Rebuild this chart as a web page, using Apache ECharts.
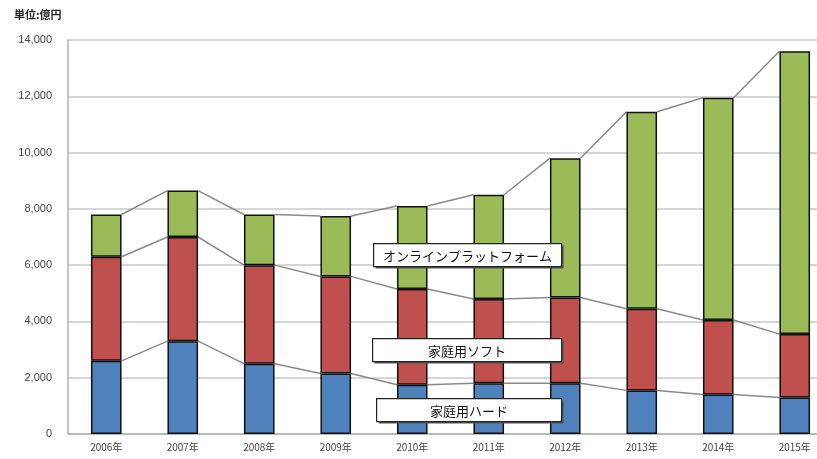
<!DOCTYPE html>
<html>
<head>
<meta charset="utf-8">
<script src="https://cdn.jsdelivr.net/npm/echarts@6/dist/echarts.min.js"></script>
<style>
  html, body { margin: 0; padding: 0; background: #fff; }
  #chart { width: 817px; height: 459px; }
</style>
</head>
<body>
<div id="chart"></div>
<script>
const years = ["2006年", "2007年", "2008年", "2009年", "2010年", "2011年", "2012年", "2013年", "2014年", "2015年"];
const hard = [2600, 3300, 2500, 2150, 1750, 1800, 1800, 1550, 1400, 1300];
const soft = [3700, 3700, 3500, 3450, 3400, 3000, 3050, 2900, 2650, 2250];
const online = [1500, 1650, 1800, 2150, 2950, 3700, 4950, 7000, 7900, 10050];
const yTicks = [0, 2000, 4000, 6000, 8000, 10000, 12000, 14000];

const colors = ["#4F81BD", "#C0504D", "#9BBB59"];
const fontJP = '"Noto Sans CJK JP", sans-serif';

// tops of each stack level, used for the connecting lines
const level1 = hard;
const level2 = hard.map((v, i) => v + soft[i]);
const level3 = level2.map((v, i) => v + online[i]);
const levels = [level1, level2, level3];

const chart = echarts.init(document.getElementById("chart"));

function barSeries(name, data, color) {
  return {
    name: name,
    type: "bar",
    stack: "total",
    barWidth: "40%",
    data: data,
    z: 3,
    itemStyle: { color: color, borderColor: "#111", borderWidth: 1.5 }
  };
}

function labelBox(text, x, y, w) {
  return {
    type: "group",
    left: x,
    top: y,
    z: 100,
    zlevel: 1,
    children: [
      { type: "rect", z: 100, zlevel: 1, shape: { x: 2, y: 2, width: w, height: 23 }, style: { fill: "#555" } },
      { type: "rect", z: 101, zlevel: 1, shape: { x: 0, y: 0, width: w, height: 23 }, style: { fill: "#fff", stroke: "#222", lineWidth: 1.2 } },
      { type: "text", z: 102, zlevel: 1, x: w / 2, y: 12, style: { text: text, fill: "#111", font: "13px " + fontJP, align: "center", verticalAlign: "middle" } }
    ]
  };
}

chart.setOption({
  animation: false,
  grid: { left: 68, top: 40, width: 765, height: 394, outerBoundsMode: "none", containLabel: false },
  xAxis: {
    type: "category",
    data: years,
    axisLine: { lineStyle: { color: "#b0b0b0", width: 1.5 } },
    axisTick: { inside: true, length: 3, lineStyle: { color: "#999" } },
    axisLabel: { color: "#444", fontSize: 10, fontFamily: fontJP, margin: 8 }
  },
  yAxis: {
    type: "value",
    min: 0,
    max: 14000,
    interval: 2000,
    axisLine: { show: true, lineStyle: { color: "#b0b0b0", width: 1.5 } },
    axisTick: { show: false },
    splitLine: { lineStyle: { color: "#c8c8c8", width: 1.5 } },
    axisLabel: {
      color: "#444",
      fontSize: 11,
      fontFamily: "Liberation Sans, Arial, sans-serif",
      margin: 16,
      formatter: v => yTicks.includes(v) ? v.toLocaleString("en-US") : ""
    }
  },
  series: [
    barSeries("家庭用ハード", hard, colors[0]),
    barSeries("家庭用ソフト", soft, colors[1]),
    barSeries("オンラインプラットフォーム", online, colors[2]),
    {
      type: "custom",
      z: 2,
      data: years.slice(0, -1).map((y, i) => [i]),
      encode: { x: 0 },
      renderItem: function (params, api) {
        const i = api.value(0);
        const half = api.size([1, 0])[0] * 0.2;
        const children = levels.map(lv => {
          const a = api.coord([i, lv[i]]);
          const b = api.coord([i + 1, lv[i + 1]]);
          return {
            type: "line",
            shape: { x1: a[0] + half, y1: a[1], x2: b[0] - half, y2: b[1] },
            style: { stroke: "#8a8a8a", lineWidth: 1.5 }
          };
        });
        return { type: "group", children: children };
      }
    }
  ],
  graphic: [
    { type: "text", left: 14, top: 9, style: { text: "単位:億円", fill: "#222", font: "bold 11px " + fontJP } },
    labelBox("オンラインプラットフォーム", 373, 243, 188),
    labelBox("家庭用ソフト", 372, 338, 189),
    labelBox("家庭用ハード", 376, 398, 185)
  ]
});
</script>
</body>
</html>
